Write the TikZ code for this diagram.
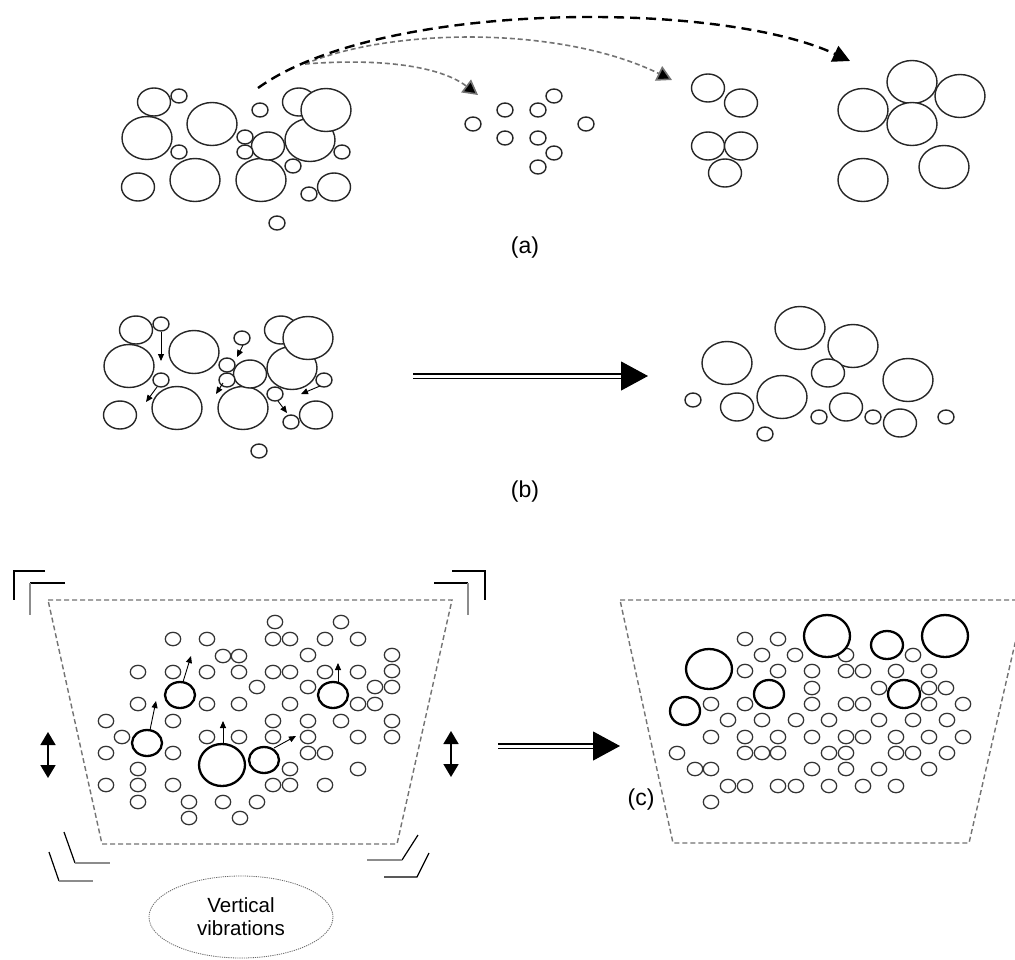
\documentclass[tikz,border=0pt]{standalone}
\usepackage{fontspec}
\setmainfont{Liberation Sans}
\usetikzlibrary{arrows.meta,shapes.geometric}
\tikzset{
  ring/.style={draw=black!85, line width=1.4pt, fill=white},
  tring/.style={draw=black!80, line width=1.25pt, fill=white},
  bring/.style={draw=black, line width=2.3pt, fill=white},
  thickdash/.style={draw=black, line width=2.4pt, dash pattern=on 10pt off 6pt, -{Triangle[length=17pt,width=17pt]}},
  thindash/.style={draw=black!55, line width=1.6pt, dash pattern=on 5pt off 3pt, -{Triangle[length=15pt,width=16pt,fill=black]}},
  smallarrow/.style={draw=black, line width=0.9pt, -{Triangle[length=7pt,width=6pt]}},
  bigdbl/.style={draw=black, double=white, double distance=3pt, line width=1.1pt, -{Triangle[length=27pt,width=29pt]}},
  vibarrow/.style={draw=black, line width=1.8pt, {Triangle[length=13pt,width=15pt]}-{Triangle[length=13pt,width=15pt]}},
  box/.style={draw=black!55, line width=1.4pt, dash pattern=on 5pt off 3pt},
  brk/.style={draw=black, line width=1.2pt},
  gbrk/.style={draw=black!45, line width=1.8pt},
  label/.style={font=\fontsize{23}{27}\selectfont},
}
\newcommand\rkS[2]{\path[ring] (#1,#2) ellipse [x radius=8pt, y radius=7pt];}
\newcommand\rkM[2]{\path[ring] (#1,#2) ellipse [x radius=16.5pt, y radius=14pt];}
\newcommand\rkL[2]{\path[ring] (#1,#2) ellipse [x radius=25pt, y radius=21.5pt];}
\newcommand\rkB[4]{\path[bring] (#1,#2) ellipse [x radius=#3pt, y radius=#4pt];}
\newcommand\rkcluster{%
  \rkL{147}{138}\rkL{212}{124}\rkL{195}{180}\rkL{261}{180}
  \rkM{299}{102}\rkL{310}{140}\rkL{326}{110}
  \rkM{154}{102}\rkM{268}{146}\rkM{138}{187}\rkM{334}{187}
  \rkS{179}{96}\rkS{260}{110}\rkS{245}{137}\rkS{245}{152}\rkS{179}{152}
  \rkS{342}{152}\rkS{293}{166}\rkS{309}{194}\rkS{277}{223}}
\begin{document}
\begin{tikzpicture}[x=1pt,y=-1pt]
\useasboundingbox (0,0) rectangle (1015,959);
\clip (0,0) rectangle (1015,959);
\fill[white] (0,0) rectangle (1015,959);

% ---------------- (a) ----------------
\rkcluster
% middle group
\rkS{473}{124}\rkS{505}{110}\rkS{538}{110}\rkS{554}{96}\rkS{586}{124}
\rkS{505}{138}\rkS{538}{138}\rkS{554}{153}\rkS{538}{167}
% third group
\rkM{708}{88}\rkM{741}{103}\rkM{708}{146}\rkM{741}{146}\rkM{725}{173}
% fourth group
\rkL{863}{110}\rkL{912}{82}\rkL{960}{96}\rkL{912}{124}\rkL{863}{180}\rkL{944}{167}

\coordinate (s1) at (258,88);
\coordinate (e1) at (850,61);
\coordinate (s2) at (305,64);
\coordinate (e2) at (672,80);
\coordinate (e3) at (478,95);
\draw[thindash] (s2) .. controls (390,28) and (560,25) .. (e2);
\draw[thindash] (s2) .. controls (380,58) and (440,66) .. (e3);
\draw[thickdash] (s1) .. controls (380,0) and (720,0) .. (e1);

\node[label] (la) at (525,248) {(a)};

% ---------------- (b) ----------------
\begin{scope}[shift={(-18,228)}]
  \rkcluster
\end{scope}
\coordinate (ba1) at (161,332); \coordinate (bb1) at (161,361);
\coordinate (ba2) at (243,345); \coordinate (bb2) at (237,357);
\coordinate (ba3) at (157,387); \coordinate (bb3) at (146,402);
\coordinate (ba4) at (223,383); \coordinate (bb4) at (216,394);
\coordinate (ba5) at (278,401); \coordinate (bb5) at (287,413);
\coordinate (ba6) at (320,386); \coordinate (bb6) at (301,394);
\foreach \i in {1,...,6} {\draw[smallarrow] (ba\i) -- (bb\i);}

\coordinate (bs) at (413,376);
\coordinate (be) at (648,376);
\draw[bigdbl] (bs) -- (be);

\rkL{800}{328}\rkL{853}{346}\rkL{727}{363}\rkM{828}{373}\rkL{908}{380}
\rkS{693}{400}\rkM{737}{407}\rkL{782}{397}\rkS{819}{417}\rkM{846}{407}
\rkS{873}{417}\rkM{900}{423}\rkS{946}{417}\rkS{765}{434}

\node[label] (lb) at (525,492) {(b)};

% ---------------- (c) left ----------------
\draw[box] (48,600) -- (452,600) -- (397,844) -- (102,844) -- cycle;
\draw[brk] (45,571) -- (14,571) -- (14,600);
\draw[brk] (65,583) -- (30,583);
\draw[gbrk] (30,583) -- (30,615);
\draw[brk] (434,583) -- (468,583);
\draw[gbrk] (468,583) -- (468,615);
\draw[brk] (452,571) -- (485,571) -- (485,600);
\draw[brk] (64,832) -- (75,863);
\draw[gbrk] (75,863) -- (110,863);
\draw[brk] (49,852) -- (59,881);
\draw[gbrk] (59,881) -- (93,881);
\draw[brk] (418,835) -- (402,860);
\draw[gbrk] (402,860) -- (367,860);
\draw[brk] (429,853) -- (417,877) -- (384,877);

\foreach \p in {(173,639),(207,639),(275,622),(341,622),
  (223,656),(239,656),(273,639),(290,639),(325,639),(358,639),
  (308,655),(392,655),
  (138,672),(173,672),(207,672),(239,672),(273,672),(290,672),(325,672),(358,672),(392,671),
  (257,687),(308,687),(375,687),(392,687),
  (138,704),(207,704),(239,704),(290,704),(358,704),(375,704),
  (106,721),(173,721),(273,721),(308,721),(341,721),(392,721),
  (122,737),(207,737),(239,737),(273,737),(308,737),(358,737),(392,737),
  (106,753),(173,753),(308,753),(325,753),
  (138,769),(290,769),(358,769),
  (106,785),(138,785),(173,785),(273,785),(290,785),(325,785),
  (138,802),(189,802),(223,802),(257,802),
  (189,818),(240,818)}
  {\path[tring] \p ellipse [x radius=7.7pt, y radius=6.7pt];}
\rkB{180}{695}{15}{13}\rkB{147}{743}{15}{13}\rkB{222}{765}{23}{21}
\rkB{333}{695}{15}{13}\rkB{264}{760}{15}{13}
\coordinate (ca1) at (183,682); \coordinate (cb1) at (191,656);
\coordinate (ca2) at (150,730); \coordinate (cb2) at (156,701);
\coordinate (ca3) at (223,744); \coordinate (cb3) at (223,721);
\coordinate (ca4) at (338,682); \coordinate (cb4) at (338,663);
\coordinate (ca5) at (274,748); \coordinate (cb5) at (296,736);
\foreach \i in {1,...,5} {\draw[smallarrow] (ca\i) -- (cb\i);}

\coordinate (vl1) at (48,732); \coordinate (vl2) at (48,778);
\coordinate (vr1) at (451,731); \coordinate (vr2) at (451,777);
\draw[vibarrow] (vl1) -- (vl2);
\draw[vibarrow] (vr1) -- (vr2);

\node[ellipse, draw=black!60, line width=0.8pt, dash pattern=on 1.2pt off 1pt,
  minimum width=184pt, minimum height=82pt, inner sep=0pt, align=center,
  font=\fontsize{20.5}{23}\selectfont] (vib) at (241,917) {Vertical\\vibrations};

\coordinate (cs) at (498,746);
\coordinate (ce) at (620,746);
\draw[bigdbl] (cs) -- (ce);
\node[label] (lc) at (641,800) {(c)};

% ---------------- (c) right ----------------
\draw[box] (620,600) -- (1025,600) -- (969,843) -- (673,843) -- cycle;
\foreach \p in {(745,639),(778,639),
  (762,655),(795,655),(846,655),(913,655),
  (745,671),(778,671),(812,671),(846,671),(863,671),(896,671),(929,671),
  (812,688),(879,688),(929,688),(946,688),
  (711,704),(745,704),(812,704),(846,704),(863,704),(929,704),(963,704),
  (728,720),(762,720),(796,720),(829,720),(879,720),(913,720),(947,720),
  (711,737),(745,737),(778,737),(812,737),(846,737),(863,737),(896,737),(929,737),(963,737),
  (677,753),(745,753),(762,753),(778,753),(829,753),(846,753),(896,753),(913,753),(947,753),
  (695,769),(711,769),(812,769),(846,769),(879,769),(929,769),
  (728,786),(745,786),(778,786),(796,786),(829,786),(863,786),(896,786),
  (711,802)}
  {\path[tring] \p ellipse [x radius=7.7pt, y radius=6.7pt];}
\rkB{709}{669}{23}{20}\rkB{685}{711}{15}{14}\rkB{769}{694}{15}{14}
\rkB{827}{636}{23}{21}\rkB{887}{645}{16}{14}\rkB{945}{636}{23}{21}\rkB{904}{694}{16}{14}
\end{tikzpicture}
\end{document}
